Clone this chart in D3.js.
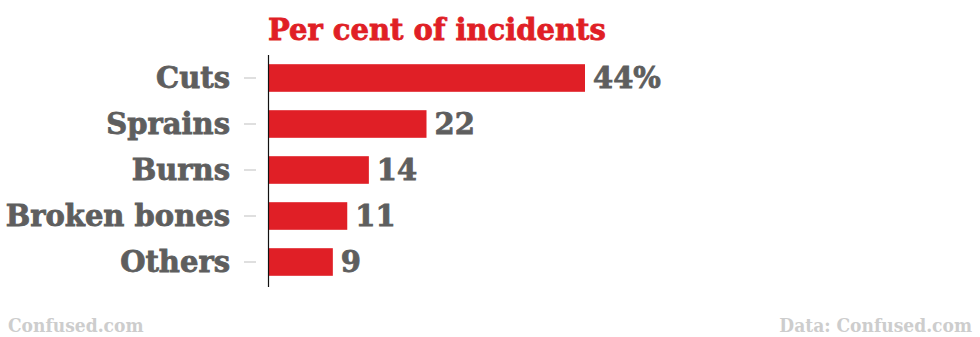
<!DOCTYPE html>
<html><head><meta charset="utf-8">
<script src="https://cdn.jsdelivr.net/npm/d3@7"></script>
<style>
body{margin:0;background:#fff;}
text{font-family:"DejaVu Serif",serif;font-weight:bold;}
text.foot{font-family:"DejaVu Serif Condensed","DejaVu Serif",serif;}
</style></head>
<body><svg id="c" width="980" height="337"></svg>
<script>
const categories = ["Cuts","Sprains","Burns","Broken bones","Others"];
const values = [44,22,14,11,9];
const valueLabels = ["44%","22","14","11","9"];
const title = "Per cent of incidents";
const sourceLeft = "Confused.com";
const sourceRight = "Data: Confused.com";

const svg = d3.select("#c");
const m = {left:268, top:55, bottom:287};
const x = d3.scaleLinear().domain([0,44]).range([m.left, 585]);
const y = d3.scaleBand().domain(categories).range([55, 285]).paddingInner(0.4).paddingOuter(0.2);

const red = "#e01f26", gray = "#5e5e5e";

svg.append("text").attr("x", 268).attr("y", 40).attr("fill", red)
  .attr("stroke", red).attr("stroke-width", 0.8)
  .attr("font-size", 29).text(title);

// bars
svg.selectAll("rect.bar").data(values).join("rect")
  .attr("x", x(0)+1).attr("y", (d,i)=>y(categories[i]))
  .attr("width", d=>x(d)-x(0)-1).attr("height", y.bandwidth())
  .attr("fill", red);

// axis
const ax = svg.append("g").attr("transform", `translate(${m.left},0)`)
  .call(d3.axisLeft(y).tickSize(0).tickPadding(0).tickFormat(""));
ax.select(".domain").attr("stroke","#111").attr("stroke-width",1.2)
  .attr("d", `M0.5,${m.top}V${m.bottom}`);
// tick marks
svg.selectAll("line.tk").data(categories).join("line")
  .attr("x1", 244).attr("x2", 256)
  .attr("y1", d=>y(d)+y.bandwidth()/2).attr("y2", d=>y(d)+y.bandwidth()/2)
  .attr("stroke","#d4d4d4").attr("stroke-width",1.5);

// category labels
svg.selectAll("text.cat").data(categories).join("text")
  .attr("x", 230).attr("y", d=>y(d)+y.bandwidth()/2)
  .attr("dy","0.36em").attr("text-anchor","end")
  .attr("fill", gray).attr("stroke", gray).attr("stroke-width", 0.8)
  .attr("font-size", 29).text(d=>d);

// value labels
svg.selectAll("text.val").data(values).join("text")
  .attr("x", d=>x(d)+8).attr("y", (d,i)=>y(categories[i])+y.bandwidth()/2)
  .attr("dy","0.36em").attr("fill", gray).attr("stroke", gray).attr("stroke-width", 0.8)
  .attr("font-size", 29)
  .text((d,i)=>valueLabels[i]);

svg.append("text").attr("class","foot").attr("x", 8).attr("y", 332).attr("fill","#cdcdcd")
  .attr("font-size", 19).text(sourceLeft);
svg.append("text").attr("class","foot").attr("x", 972).attr("y", 332).attr("fill","#cdcdcd")
  .attr("text-anchor","end").attr("font-size", 19).text(sourceRight);
</script></body></html>
